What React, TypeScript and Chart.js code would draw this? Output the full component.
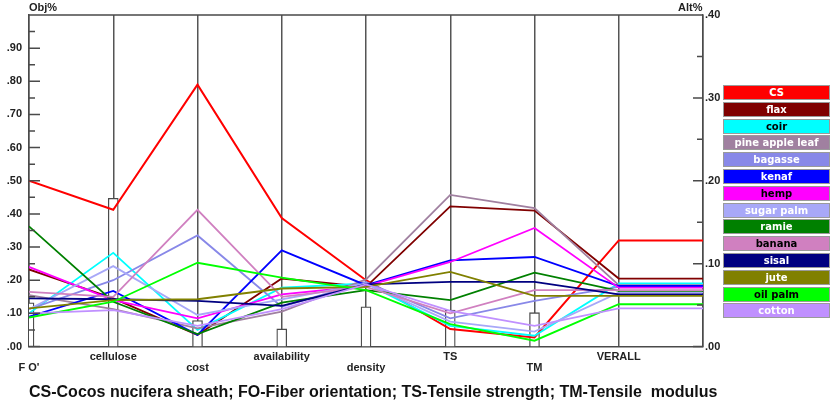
import { useEffect, useRef } from "react";
import { Chart, registerables, Plugin } from "chart.js";

Chart.register(...registerables);

// criteria along the x axis (last one is the overall column)
const criteria = ["F O'", "cellulose", "cost", "availability", "density", "TS", "TM", "VERALL"];

// objective weights, left axis (Obj%)
const objWeights = [0.132, 0.447, 0.078, 0.053, 0.12, 0.11, 0.102];

// alternative priorities per criterion + overall, right axis (Alt%)
const cs = [0.2, 0.165, 0.316, 0.155, 0.08, 0.021, 0.011, 0.128];
const flax = [0.093, 0.058, 0.014, 0.082, 0.072, 0.169, 0.164, 0.082];
const coir = [0.04, 0.113, 0.02, 0.071, 0.076, 0.025, 0.013, 0.076];
const pineAppleLeaf = [0.062, 0.045, 0.022, 0.042, 0.081, 0.183, 0.167, 0.074];
const bagasse = [0.045, 0.08, 0.134, 0.048, 0.078, 0.034, 0.055, 0.072];
const kenaf = [0.036, 0.067, 0.014, 0.116, 0.074, 0.104, 0.108, 0.073];
const hemp = [0.096, 0.056, 0.034, 0.063, 0.073, 0.102, 0.143, 0.071];
const sugarPalm = [0.045, 0.097, 0.038, 0.057, 0.076, 0.03, 0.018, 0.065];
const ramie = [0.145, 0.054, 0.015, 0.053, 0.068, 0.056, 0.089, 0.067];
const banana = [0.066, 0.06, 0.165, 0.06, 0.072, 0.04, 0.068, 0.068];
const sisal = [0.058, 0.057, 0.055, 0.049, 0.075, 0.078, 0.078, 0.063];
const jute = [0.046, 0.056, 0.057, 0.07, 0.072, 0.09, 0.061, 0.061];
const oilPalm = [0.035, 0.054, 0.101, 0.083, 0.068, 0.027, 0.007, 0.051];
const cotton = [0.04, 0.044, 0.025, 0.045, 0.075, 0.043, 0.025, 0.046];

const altNames = [
  "CS", "flax", "coir", "pine apple leaf", "bagasse", "kenaf", "hemp",
  "sugar palm", "ramie", "banana", "sisal", "jute", "oil palm", "cotton",
];
const altValues = [
  cs, flax, coir, pineAppleLeaf, bagasse, kenaf, hemp,
  sugarPalm, ramie, banana, sisal, jute, oilPalm, cotton,
];
const altColors = [
  "#ff0000", "#800000", "#00ffff", "#a080a0", "#8888e8", "#0000ff", "#ff00ff",
  "#a8a8f8", "#008000", "#d080c0", "#000080", "#808000", "#00ff00", "#c090ff",
];
const legendText = [
  "#fff", "#fff", "#000", "#fff", "#fff", "#fff", "#000",
  "#fff", "#fff", "#000", "#fff", "#fff", "#000", "#fff",
];

const AXIS = "#4a4a4a";
const LABEL_FONT = { family: "'Liberation Sans', Arial, sans-serif", size: 11, weight: "bold" as const };

// inward tick marks + top frame line
const frame: Plugin = {
  id: "frame",
  afterDatasetsDraw(chart) {
    const { ctx, chartArea } = chart;
    const yl = chart.scales.yL;
    const yr = chart.scales.yR;
    ctx.save();
    ctx.strokeStyle = AXIS;
    ctx.lineWidth = 1.5;
    ctx.beginPath();
    ctx.moveTo(chartArea.left, chartArea.top);
    ctx.lineTo(chartArea.right, chartArea.top);
    for (let i = 0; i <= 20; i++) {
      const y = yl.getPixelForValue(i * 0.05);
      const len = i % 2 === 0 ? 11 : 6;
      ctx.moveTo(chartArea.left, y);
      ctx.lineTo(chartArea.left + len, y);
    }
    for (let i = 0; i <= 8; i++) {
      const y = yr.getPixelForValue(i * 0.05);
      const len = i % 2 === 0 ? 10 : 6;
      ctx.moveTo(chartArea.right, y);
      ctx.lineTo(chartArea.right - len, y);
    }
    ctx.stroke();
    ctx.restore();
  },
};

const fmt = (v: number, max: number) => {
  const p = Math.round(v * 100);
  if (p % 10 !== 0 || p >= max) return "";
  return "." + String(p).padStart(2, "0");
};

const App = () => {
  const canvasRef = useRef<HTMLCanvasElement>(null);

  useEffect(() => {
    const ctx = canvasRef.current?.getContext("2d");
    if (!ctx) return;

    const lineSets = altValues.map((vals, i) => ({
      type: "line" as const,
      label: altNames[i],
      data: [...vals, vals[vals.length - 1]].map((v, k) => ({ x: k, y: v })),
      borderColor: altColors[i],
      borderWidth: i === 0 ? 2 : 1.8,
      pointRadius: 0,
      tension: 0,
      yAxisID: "yR",
      order: 20 - i,
    }));

    const chart = new Chart(ctx, {
      type: "bar",
      data: {
        datasets: [
          {
            type: "bar",
            label: "Obj%",
            data: objWeights.map((v, k) => ({ x: k, y: v })),
            backgroundColor: "#ffffff",
            borderColor: AXIS,
            borderWidth: 1.3,
            barThickness: 10,
            yAxisID: "yL",
            order: 100,
          },
          ...lineSets,
        ] as any,
      },
      options: {
        animation: false,
        responsive: true,
        maintainAspectRatio: false,
        events: [],
        layout: { padding: { top: 15, left: 0, right: 0, bottom: 0 } },
        plugins: { legend: { display: false }, tooltip: { enabled: false } },
        scales: {
          x: {
            type: "linear",
            min: 0,
            max: 8,
            offset: false,
            afterFit: (s: any) => {
              s.height = 58.5;
            },
            grid: { color: "#555", lineWidth: 1.5, drawTicks: false, offset: false },
            border: { color: AXIS, width: 1.5 },
            ticks: {
              stepSize: 1,
              autoSkip: false,
              maxRotation: 0,
              padding: 5,
              color: "#222",
              font: { ...LABEL_FONT, lineHeight: 1 },
              callback: (v: any) => {
                const i = Math.round(Number(v));
                if (i >= criteria.length) return "";
                return i % 2 === 0 ? ["", criteria[i]] : [criteria[i]];
              },
            },
          },
          yL: {
            type: "linear",
            position: "left",
            min: 0,
            max: 1,
            afterFit: (s: any) => {
              s.width = 29;
            },
            grid: { display: false, drawTicks: false },
            border: { color: AXIS, width: 1.5 },
            ticks: {
              stepSize: 0.05,
              autoSkip: false,
              padding: 7,
              color: "#222",
              font: LABEL_FONT,
              callback: (v: any) => fmt(Number(v), 100),
            },
          },
          yR: {
            type: "linear",
            position: "right",
            min: 0,
            max: 0.4,
            afterFit: (s: any) => {
              s.width = 132;
            },
            grid: { display: false, drawTicks: false },
            border: { color: AXIS, width: 1.5 },
            ticks: {
              stepSize: 0.05,
              autoSkip: false,
              padding: 2,
              color: "#222",
              font: LABEL_FONT,
              callback: (v: any) => fmt(Number(v), 41),
            },
          },
        },
      },
      plugins: [frame],
    });

    return () => {
      chart.destroy();
    };
  }, []);

  return (
    <div
      style={{
        position: "fixed",
        left: 0,
        top: 0,
        width: 835,
        height: 405,
        background: "#fff",
        fontFamily: "'Liberation Sans', Arial, sans-serif",
      }}
    >
      <canvas ref={canvasRef} />
      <div style={{ position: "absolute", left: 29, top: 1, fontSize: 11, fontWeight: "bold", color: "#222" }}>
        Obj%
      </div>
      <div style={{ position: "absolute", left: 678, top: 1, fontSize: 11, fontWeight: "bold", color: "#222" }}>
        Alt%
      </div>
      {altNames.map((name, i) => (
        <div
          key={name}
          style={{
            position: "absolute",
            left: 723,
            top: 85 + i * 16.8,
            width: 107,
            height: 15,
            boxSizing: "border-box",
            border: "1px solid #9a9a9a",
            background: altColors[i],
            color: legendText[i],
            fontFamily: "'DejaVu Sans', sans-serif",
            fontSize: 10,
            fontWeight: "bold",
            lineHeight: "13px",
            textAlign: "center",
          }}
        >
          {name}
        </div>
      ))}
      <div
        style={{
          position: "absolute",
          left: 29,
          top: 383,
          fontSize: 16,
          fontWeight: "bold",
          color: "#111",
          whiteSpace: "pre",
        }}
      >
        {"CS-Cocos nucifera sheath; FO-Fiber orientation; TS-Tensile strength; TM-Tensile  modulus"}
      </div>
    </div>
  );
};

export default App;
